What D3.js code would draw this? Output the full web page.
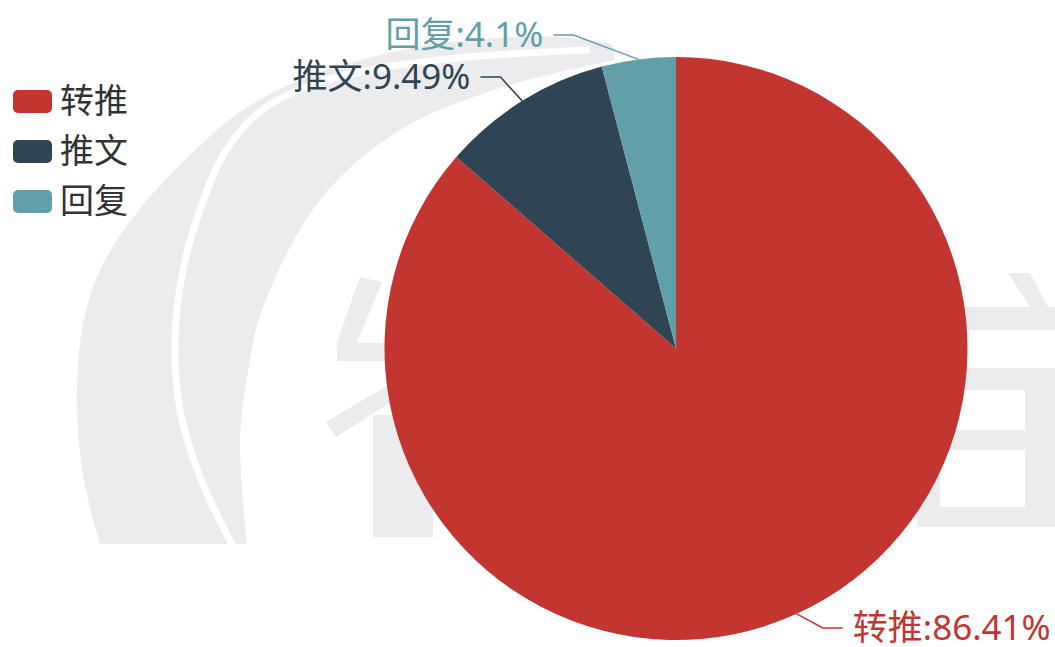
<!DOCTYPE html>
<html>
<head>
<meta charset="utf-8">
<script src="https://cdn.jsdelivr.net/npm/d3@7/dist/d3.min.js"></script>
<style>
  html, body { margin: 0; padding: 0; background: #ffffff; }
  svg { display: block; }
  text { font-family: "Noto Sans", "Noto Sans CJK SC", sans-serif; }
</style>
</head>
<body>
<svg id="chart" width="1055" height="647"></svg>
<script>
// ---- data ----
const categories = ["转推", "推文", "回复"];
const values = [86.41, 9.49, 4.1];
const colors = ["#c23531", "#2f4554", "#61a0a8"];

// ---- layout ----
const W = 1055, H = 647;
const cx = 676, cy = 348.5, R = 291.5;
const labelFont = 35, legendFont = 34;
const wmColor = "#ececee";

const svg = d3.select("#chart");

// ---- watermark (background decoration) ----
const wm = svg.append("g").attr("class", "watermark");
const line = d3.line().curve(d3.curveCatmullRom.alpha(0.5));
const outerEdge = [[100,544],[84,480],[77,410],[82,330],[100,270],[135,215],[185,160],[240,112],[300,80],[380,55],[460,41],[560,37],[612,44]];
const innerEdge = [[615,60],[500,88],[400,130],[320,200],[262,310],[247,377],[240,443],[247,544]];
wm.append("path")
  .attr("d", line(outerEdge) + "L" + line(innerEdge).slice(1) + "Z")
  .attr("fill", wmColor);
const gap = [[236,552],[200,477],[180,410],[175,340],[183,270],[200,210],[225,152],[262,110],[320,82],[400,65],[480,56],[590,50]];
wm.append("path").attr("d", line(gap)).attr("fill", "none")
  .attr("stroke", "#ffffff").attr("stroke-width", 7);
// left glyph strokes
wm.append("path").attr("d", "M360,277L382,282L356,345L336,345Z").attr("fill", wmColor);
wm.append("rect").attr("x", 337).attr("y", 343).attr("width", 80).attr("height", 18).attr("fill", wmColor);
wm.append("path").attr("d", "M326,422L410,372L410,390L336,437Z").attr("fill", wmColor);
wm.append("rect").attr("x", 373).attr("y", 415).attr("width", 60).attr("height", 122).attr("fill", wmColor);
// right glyph strokes
wm.append("path").attr("d", "M1008,273L1030,273L1048,307L1030,307Z").attr("fill", wmColor);
wm.append("rect").attr("x", 940).attr("y", 307).attr("width", 120).attr("height", 23).attr("fill", wmColor);
wm.append("path")
  .attr("d", "M917,368H1060V527H917Z M940,390H1025V430H940Z M940,450H1025V507H940Z")
  .attr("fill", wmColor).attr("fill-rule", "evenodd");

// ---- pie ----
const pie = d3.pie().sort(null).value(d => d.value).startAngle(0).endAngle(2 * Math.PI);
const data = categories.map((c, i) => ({ name: c, value: values[i], color: colors[i] }));
const arcs = pie(data);
const total = d3.sum(values);
const arc = d3.arc().innerRadius(0).outerRadius(R);

const g = svg.append("g").attr("transform", `translate(${cx},${cy})`);
g.selectAll("path.slice").data(arcs).enter().append("path")
  .attr("class", "slice")
  .attr("d", arc)
  .attr("fill", d => d.data.color);

// ---- labels ----
const L1 = 28, L2 = 20, textGap = 10;
const labelNudge = { "转推": -8, "推文": -7, "回复": -41 };
const lg = svg.append("g");
arcs.forEach(d => {
  const a = (d.startAngle + d.endAngle) / 2;
  const s = Math.sin(a), c = Math.cos(a);
  const ex = cx + R * s, ey = cy - R * c;
  let ly = cy - (R + L1) * c;
  ly = Math.max(35, Math.min(H - 19, ly));
  const rr = R + 28;
  const dy = ly - cy;
  const side = s >= 0 ? 1 : -1;
  let lx = cx + side * Math.sqrt(Math.max(0, rr * rr - dy * dy));
  lx += labelNudge[d.data.name] || 0;
  const hx = lx + side * L2;
  lg.append("path")
    .attr("d", `M${ex},${ey}L${lx},${ly}L${hx},${ly}`)
    .attr("fill", "none")
    .attr("stroke", d.data.color)
    .attr("stroke-width", 1.5);
  const pct = +(d.data.value / total * 100).toFixed(2);
  lg.append("text")
    .attr("x", hx + side * textGap)
    .attr("y", ly)
    .attr("dy", "0.35em")
    .attr("text-anchor", side > 0 ? "start" : "end")
    .attr("fill", d.data.color)
    .attr("font-size", labelFont)
    .text(`${d.data.name}:${pct}%`);
});

// ---- legend ----
const legend = svg.append("g").attr("transform", "translate(13,90)");
const item = legend.selectAll("g").data(data).enter().append("g")
  .attr("transform", (d, i) => `translate(0,${i * 50})`);
item.append("rect")
  .attr("width", 39).attr("height", 23).attr("rx", 5).attr("ry", 5)
  .attr("fill", d => d.color);
item.append("text")
  .attr("x", 47).attr("y", 11.5).attr("dy", "0.35em")
  .attr("font-size", legendFont)
  .attr("fill", "#333333")
  .text(d => d.name);
</script>
</body>
</html>
